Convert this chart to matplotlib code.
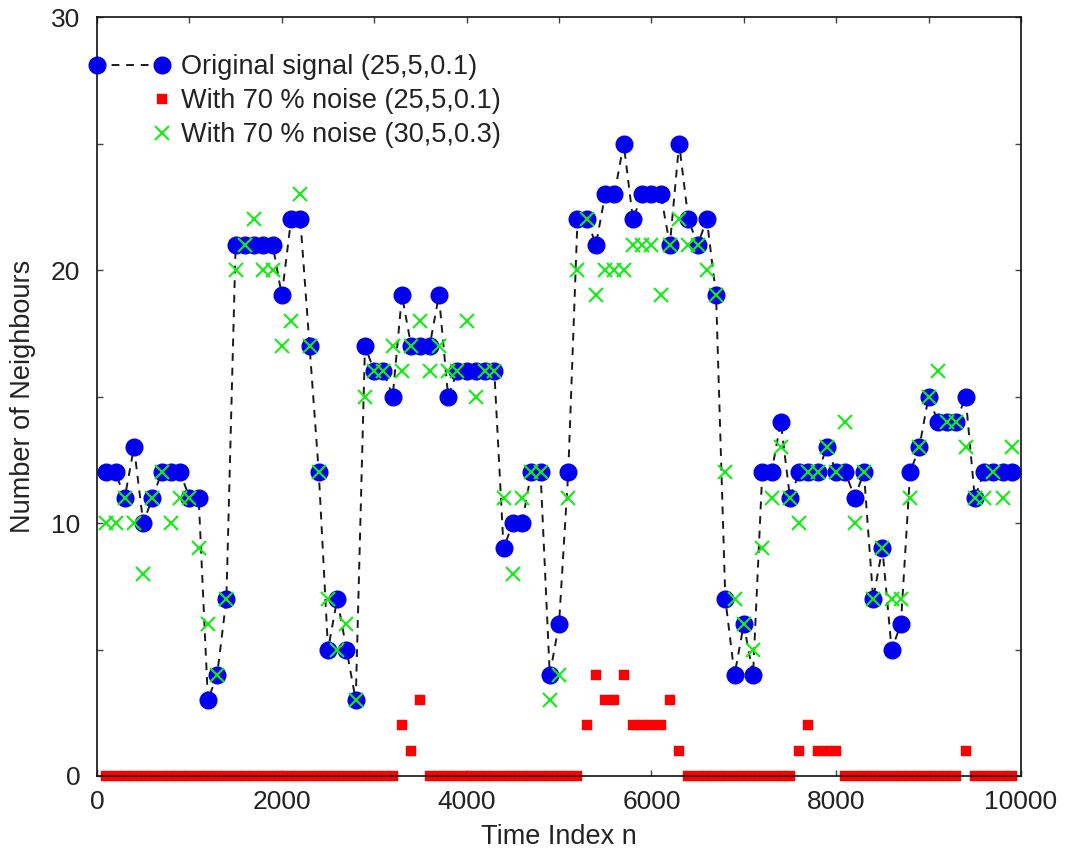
import numpy as np
import matplotlib
matplotlib.use("Agg")
import matplotlib.pyplot as plt
from matplotlib.legend_handler import HandlerLine2D
from matplotlib.lines import Line2D

plt.rcParams["font.family"] = ["Liberation Sans", "DejaVu Sans"]
plt.rcParams["text.color"] = "#222222"
plt.rcParams["axes.labelcolor"] = "#222222"

# sample index of every point (one every 100 steps)
time_index = list(range(100, 10000, 100))

original = [12, 12, 11, 13, 10, 11, 12, 12, 12, 11,
            11, 3, 4, 7, 21, 21, 21, 21, 21, 19,
            22, 22, 17, 12, 5, 7, 5, 3, 17, 16,
            16, 15, 19, 17, 17, 17, 19, 15, 16, 16,
            16, 16, 16, 9, 10, 10, 12, 12, 4, 6,
            12, 22, 22, 21, 23, 23, 25, 22, 23, 23,
            23, 21, 25, 22, 21, 22, 19, 7, 4, 6,
            4, 12, 12, 14, 11, 12, 12, 12, 13, 12,
            12, 11, 12, 7, 9, 5, 6, 12, 13, 15,
            14, 14, 14, 15, 11, 12, 12, 12, 12]

noise_a = ([0] * 32 + [2, 1, 3] + [0] * 17 +
           [2, 4, 3, 3, 4, 2, 2, 2, 2, 3, 1] + [0] * 12 +
           [1, 2, 1, 1, 1] + [0] * 13 + [1] + [0] * 5)

noise_b = [10, 10, 11, 10, 8, 11, 12, 10, 11, 11,
           9, 6, 4, 7, 20, 21, 22, 20, 20, 17,
           18, 23, 17, 12, 7, 5, 6, 3, 15, 16,
           16, 17, 16, 17, 18, 16, 17, 16, 16, 18,
           15, 16, 16, 11, 8, 11, 12, 12, 3, 4,
           11, 20, 22, 19, 20, 20, 20, 21, 21, 21,
           19, 21, 22, 21, 21, 20, 19, 12, 7, 6,
           5, 9, 11, 13, 11, 10, 12, 12, 13, 12,
           14, 10, 12, 7, 9, 7, 7, 11, 13, 15,
           16, 14, 14, 13, 11, 11, 12, 11, 13]

labels = ["Original signal (25,5,0.1)",
          "With 70 % noise (25,5,0.1)",
          "With 70 % noise (30,5,0.3)"]

fig = plt.figure(figsize=(10.71, 8.55), dpi=100)
ax = fig.add_axes([0.0906, 0.0924, 0.8627, 0.8877])

blue_style = dict(color="#1a1a1a", linestyle=(0, (4, 3.5)), linewidth=1.4,
                  marker="o", markersize=12, markerfacecolor="#0000ee",
                  markeredgecolor="#0000ee")
red_style = dict(linestyle="none", marker="s", markersize=7,
                 markerfacecolor="#ff0000", markeredgecolor="#ff0000",
                 markeredgewidth=0.3)
green_style = dict(linestyle="none", marker="x", markersize=9.5,
                   markeredgecolor="#11ee11", markeredgewidth=1.5)

ax.plot(time_index, original, **blue_style)
ax.plot(time_index, noise_a, clip_on=False, **red_style)
ax.plot(time_index, noise_b, **green_style)

ax.set_xlim(0, 10000)
ax.set_ylim(0, 30)
ax.set_xticks(range(0, 10001, 2000))
ax.set_xticks(range(1000, 10000, 2000), minor=True)
ax.set_yticks([0, 10, 20, 30])
ax.set_yticks([5, 15, 25], minor=True)

ax.tick_params(which="both", direction="in", length=4, width=1,
               color="#444444", labelsize=19, labelcolor="#222222",
               top=True, right=True)
ax.tick_params(axis="x", which="minor", bottom=False)
ax.tick_params(axis="x", pad=10)
ax.tick_params(axis="y", pad=12)
for s in ax.spines.values():
    s.set_linewidth(1.2)
    s.set_color("#111111")

ax.set_xlabel("Time Index n", fontsize=19.5, labelpad=7)
ax.set_ylabel("Number of Neighbours", fontsize=19.5)
ax.yaxis.set_label_coords(-0.066, 0.5)


class EndMarker(HandlerLine2D):
    def get_xdata(self, legend, xdescent, ydescent, width, height, fontsize):
        x = np.array([width - xdescent])
        return x, x


handles = [Line2D([], [], **blue_style),
           Line2D([], [], **red_style),
           Line2D([], [], **green_style)]
ax.legend(handles, labels, loc="upper left", bbox_to_anchor=(0, 0.951),
          frameon=False, fontsize=19.5, borderpad=0, borderaxespad=0,
          handlelength=2.4, handletextpad=0.7, labelspacing=0.3,
          handler_map={handles[0]: HandlerLine2D(numpoints=2, marker_pad=0),
                       handles[1]: EndMarker(numpoints=1),
                       handles[2]: EndMarker(numpoints=1)})

fig.savefig("out.png", dpi=100)
